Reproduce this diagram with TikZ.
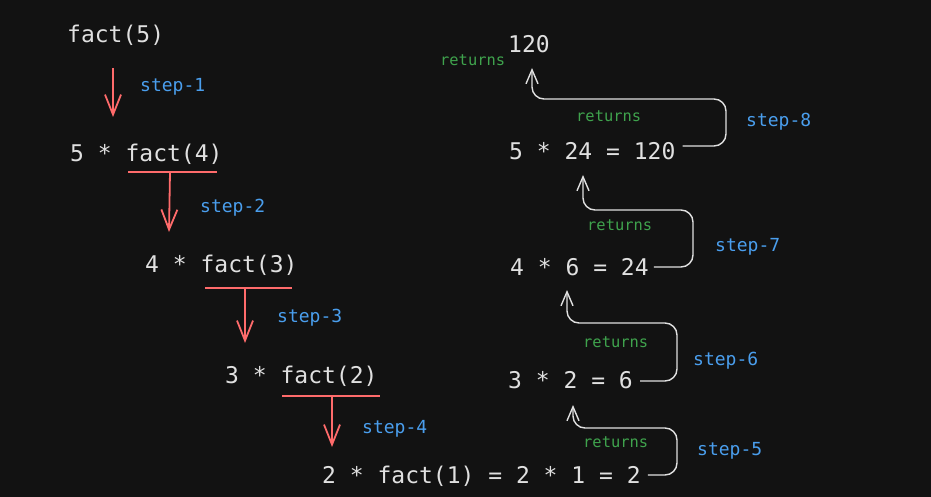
\documentclass[tikz,border=0pt]{standalone}
\usepackage{fontspec}
\setmonofont{DejaVu Sans Mono}
\usetikzlibrary{arrows.meta}
\definecolor{bg}{HTML}{121212}
\definecolor{chalk}{HTML}{E0E0E0}
\definecolor{callred}{HTML}{FF6B6B}
\definecolor{stepblue}{HTML}{4A9EED}
\definecolor{retgreen}{HTML}{3FA34D}
\tikzset{
  expr/.style={anchor=base west, inner sep=0pt, text=chalk, font=\ttfamily\fontsize{23}{25}\selectfont},
  steplabel/.style={anchor=base west, inner sep=0pt, text=stepblue, font=\ttfamily\fontsize{18}{20}\selectfont},
  retlabel/.style={anchor=base west, inner sep=0pt, text=retgreen, font=\ttfamily\fontsize{15.4}{17}\selectfont},
  underl/.style={callred, line width=1.8pt},
  call/.style={callred, line width=1.8pt, -{Straight Barb[length=20pt,width=16pt]}},
  ret/.style={chalk, line width=1.4pt, rounded corners=12pt, -{Straight Barb[length=14pt,width=12pt]}}
}

\begin{document}
\begin{tikzpicture}[x=1pt, y=-1pt]
\fill[bg] (0,0) rectangle (931,497);
% calls going down
\node[expr] (f5) at (67,43) {fact(5)};
\node[expr] (f4) at (70,162) {5 * fact(4)};
\node[expr] (f3) at (145,272) {4 * fact(3)};
\node[expr] (f2) at (225,383) {3 * fact(2)};
\node[expr] (f1) at (322,483) {2 * fact(1) = 2 * 1 = 2};
\node[steplabel] (s1) at (140,92) {step-1};
\node[steplabel] (s2) at (200,212) {step-2};
\node[steplabel] (s3) at (277,322) {step-3};
\node[steplabel] (s4) at (362,433) {step-4};
\coordinate (a1) at (113,68);  \coordinate (b1) at (113,117);
\coordinate (a2) at (170,172); \coordinate (b2) at (169,232);
\coordinate (a3) at (245,288); \coordinate (b3) at (245,343);
\coordinate (a4) at (332,396); \coordinate (b4) at (332,447);
\draw[underl] (128,172) -- (217,172);
\draw[underl] (205,288) -- (292,288);
\draw[underl] (282,396) -- (380,396);
\draw[call] (a1) -- (b1);
\draw[call] (a2) -- (b2);
\draw[call] (a3) -- (b3);
\draw[call] (a4) -- (b4);
% values coming back up
\node[expr] (v120) at (508,53) {120};
\node[expr] (e8) at (509,160) {5 * 24 = 120};
\node[expr] (e7) at (510,275) {4 * 6 = 24};
\node[expr] (e6) at (508,388) {3 * 2 = 6};
\node[retlabel] (r0) at (440,66) {returns};
\node[retlabel] (r8) at (576,122) {returns};
\node[retlabel] (r7) at (587,230) {returns};
\node[retlabel] (r6) at (583,347) {returns};
\node[retlabel] (r5) at (583,447) {returns};
\node[steplabel] (s8) at (746,127) {step-8};
\node[steplabel] (s7) at (715,251) {step-7};
\node[steplabel] (s6) at (693,365) {step-6};
\node[steplabel] (s5) at (697,455) {step-5};
\coordinate (t8) at (532,68);
\coordinate (t7) at (583,175);
\coordinate (t6) at (567,290);
\coordinate (t5) at (573,405);
\draw[ret] ([shift={(7,-14)}]e8.base east) -| (726,99) -| (t8);
\draw[ret] ([shift={(5,-8)}]e7.base east) -| (693,210) -| (t7);
\draw[ret] ([shift={(7,-7)}]e6.base east) -| (677,323) -| (t6);
\draw[ret] ([shift={(7,-8)}]f1.base east) -| (677,428) -| (t5);
\end{tikzpicture}
\end{document}
